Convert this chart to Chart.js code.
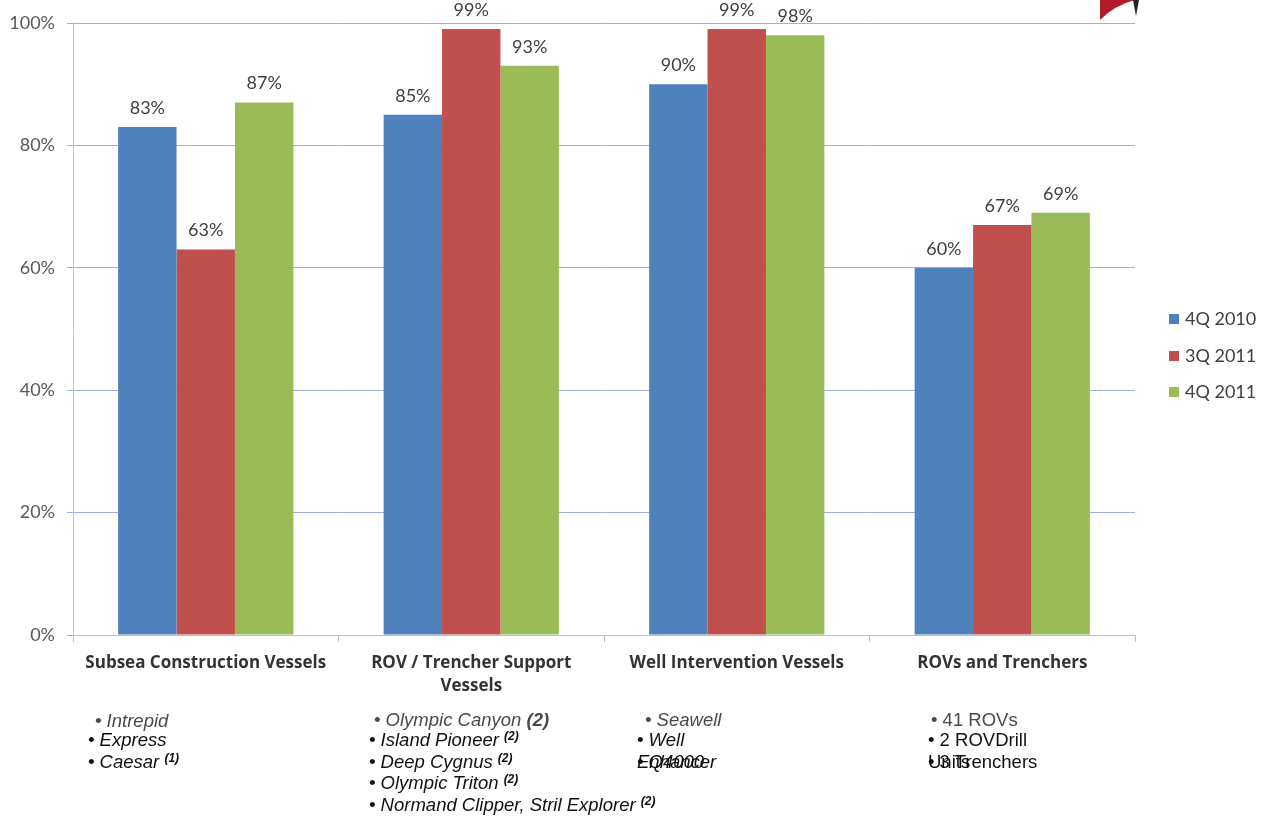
<!DOCTYPE html>
<html>
<head>
<meta charset="utf-8">
<script src="https://cdn.jsdelivr.net/npm/chart.js@4.4.1/dist/chart.umd.min.js"></script>
<style>
  body { margin: 0; background: #fff; }
  #wrap { position: relative; width: 1267px; height: 820px; overflow: hidden; }
  .note { position: absolute; font-family: "Liberation Sans", Arial, sans-serif; font-size: 18.5px;
          font-style: italic; color: #111; white-space: nowrap; line-height: 22px; }
  .note.first { color: #4a4a4a; }
  .note.plain { font-style: normal; }
  .note sup { font-size: 12px; font-weight: bold; vertical-align: 6px; line-height: 0; }
  .note b { font-weight: bold; }
</style>
</head>
<body>
<div id="wrap">
  <canvas id="chart" width="1267" height="820"></canvas>
</div>
<script>
// chart data
const categories = ['Subsea Construction Vessels', ['ROV / Trencher Support', 'Vessels'], 'Well Intervention Vessels', 'ROVs and Trenchers'];
const seriesNames = ['4Q 2010', '3Q 2011', '4Q 2011'];
const q4_2010 = [83, 85, 90, 60];
const q3_2011 = [63, 99, 99, 67];
const q4_2011 = [87, 93, 98, 69];
const yTicks = [0, 20, 40, 60, 80, 100];

// vessel notes under each category (left, top, html, style)
const notes = [
  [95, 710, '• Intrepid', 'first'],
  [88, 729, '• Express', ''],
  [88, 751, '• Caesar <sup>(1)</sup>', ''],
  [374, 709, '• Olympic Canyon <b>(2)</b>', 'first'],
  [369, 729, '• Island Pioneer <sup>(2)</sup>', ''],
  [369, 751, '• Deep Cygnus <sup>(2)</sup>', ''],
  [369, 772, '• Olympic Triton <sup>(2)</sup>', ''],
  [369, 794, '• Normand Clipper, Stril Explorer <sup>(2)</sup>', ''],
  [645, 709, '• Seawell', 'first'],
  [637, 729, '• Well', ''],
  [637, 751, 'Enhancer', ''],
  [637, 751, '• Q4000', ''],
  [931, 709, '• 41 ROVs', 'first plain'],
  [928, 729, '• 2 ROVDrill', 'plain'],
  [928, 751, 'Units', 'plain'],
  [928, 751, '• 3 Trenchers', 'plain']
];

const colors = ['#4f81bd', '#c0504d', '#9bbb59'];
const wrap = document.getElementById('wrap');
for (const n of notes) {
  const d = document.createElement('div');
  d.className = 'note ' + n[3];
  d.style.left = n[0] + 'px';
  d.style.top = n[1] + 'px';
  d.innerHTML = n[2];
  wrap.appendChild(d);
}

// value labels above bars
const valueLabels = {
  id: 'valueLabels',
  afterDatasetsDraw(chart) {
    const ctx = chart.ctx;
    ctx.save();
    ctx.font = '18px Lato, "Open Sans", sans-serif';
    ctx.fillStyle = '#404040';
    ctx.textAlign = 'center';
    ctx.textBaseline = 'middle';
    chart.data.datasets.forEach((ds, i) => {
      chart.getDatasetMeta(i).data.forEach((bar, j) => {
        ctx.fillText(ds.data[j] + '%', bar.x, bar.y - 19);
      });
    });
    ctx.restore();
  }
};

// legend on the right
const sideLegend = {
  id: 'sideLegend',
  afterDraw(chart) {
    const ctx = chart.ctx;
    const ys = [319, 356, 392];
    ctx.save();
    ctx.font = '18px Lato, "Open Sans", sans-serif';
    ctx.textBaseline = 'middle';
    chart.data.datasets.forEach((ds, i) => {
      ctx.fillStyle = ds.backgroundColor;
      ctx.fillRect(1169, ys[i] - 5, 10, 10);
      ctx.fillStyle = '#404040';
      ctx.fillText(ds.label, 1185, ys[i]);
    });
    ctx.restore();
  }
};

// small logo fragment in the corner
const cornerLogo = {
  id: 'cornerLogo',
  afterDraw(chart) {
    const ctx = chart.ctx;
    ctx.save();
    ctx.fillStyle = '#b31b2b';
    ctx.beginPath();
    ctx.moveTo(1100, 20); ctx.quadraticCurveTo(1115, 5, 1135, 0); ctx.lineTo(1100, 0); ctx.closePath();
    ctx.fill();
    ctx.fillStyle = '#222';
    ctx.beginPath();
    ctx.moveTo(1133, 0); ctx.lineTo(1139, 0); ctx.lineTo(1136, 16); ctx.closePath();
    ctx.fill();
    ctx.restore();
  }
};

new Chart(document.getElementById('chart'), {
  type: 'bar',
  data: {
    labels: categories,
    datasets: [
      { label: seriesNames[0], data: q4_2010, backgroundColor: colors[0] },
      { label: seriesNames[1], data: q3_2011, backgroundColor: colors[1] },
      { label: seriesNames[2], data: q4_2011, backgroundColor: colors[2] }
    ]
  },
  options: {
    responsive: false,
    animation: false,
    devicePixelRatio: 1,
    layout: { padding: { top: 23, right: 132, left: 0, bottom: 0 } },
    datasets: { bar: { categoryPercentage: 0.66, barPercentage: 1 } },
    plugins: { legend: { display: false }, tooltip: { enabled: false } },
    scales: {
      x: {
        offset: true,
        afterFit: s => { s.height = 185; },
        grid: { offset: true, drawOnChartArea: false, drawTicks: true, tickLength: 7, color: '#bfbfbf' },
        border: { color: '#bfbfbf' },
        ticks: {
          color: '#333',
          padding: 10,
          font: { family: '"Open Sans", Lato, sans-serif', size: 17, weight: 'bold', lineHeight: 1.35 }
        }
      },
      y: {
        min: 0, max: 100,
        afterFit: s => { s.width = 73; },
        afterBuildTicks: s => { s.ticks = yTicks.map(v => ({ value: v })); },
        grid: { color: '#9fb0e0', tickLength: 6, lineWidth: 1 },
        border: { color: '#c8c8c8' },
        ticks: {
          color: '#595959',
          padding: 12,
          font: { family: 'Lato, "Open Sans", sans-serif', size: 18 },
          callback: v => v + '%'
        }
      }
    }
  },
  plugins: [valueLabels, sideLegend, cornerLogo]
});
</script>
</body>
</html>
